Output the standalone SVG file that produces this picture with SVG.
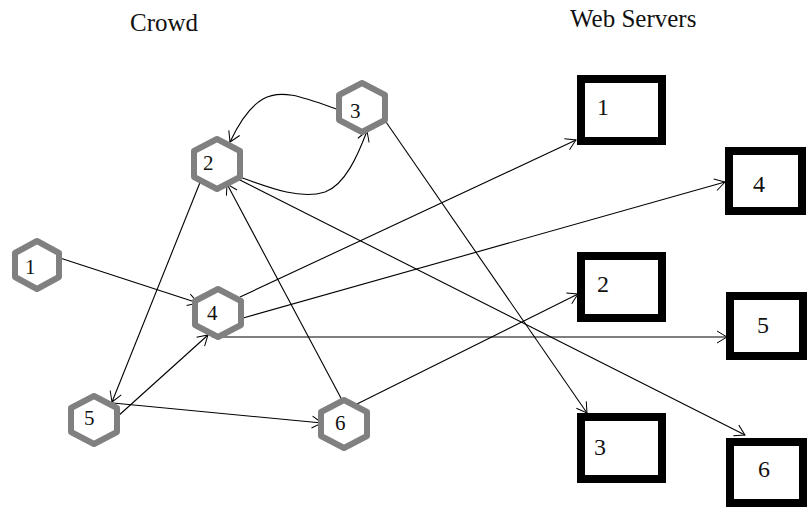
<svg xmlns="http://www.w3.org/2000/svg" width="807" height="511" viewBox="0 0 807 511">
<defs>
<marker id="arr" markerWidth="14" markerHeight="14" refX="12" refY="7" orient="auto" markerUnits="userSpaceOnUse">
<path d="M2,1 L12,7 L2,13" fill="none" stroke="#000" stroke-width="1"/>
</marker>
<style>
.t{font-family:"Liberation Serif","Times New Roman",serif;fill:#111}
.title{font-size:25px}
.hl{font-size:21px}
.bl{font-size:24px}
.hex{fill:#fff;stroke:#808080;stroke-width:6;stroke-linejoin:round}
.box{fill:#fff;stroke:#000;stroke-width:8}
.c{fill:none;stroke:#000;stroke-width:1.1;marker-end:url(#arr)}
</style>
</defs>
<rect width="807" height="511" fill="#fff"/>
<text class="t title" x="130" y="31">Crowd</text>
<text class="t title" x="570" y="27">Web Servers</text>

<g id="connectors">
<path class="c" d="M60,258 L198,303"/>
<path class="c" d="M342,111 C305,98 282,88 263,99 C249,107 238,125 230,142"/>
<path class="c" d="M237,176 C270,188 300,200 325,192 C345,185 358,155 367,131"/>
<path class="c" d="M386,122 L587,413"/>
<path class="c" d="M201,180 L112,402"/>
<path class="c" d="M342,400 L227,184"/>
<path class="c" d="M238,179 L745,435"/>
<path class="c" d="M240,297 L576,140"/>
<path class="c" d="M243,318 L725,182"/>
<path class="c" d="M212,337 L727,337"/>
<path class="c" d="M117,417 L208,335"/>
<path class="c" d="M113,403 L322,423"/>
<path class="c" d="M357,404 L578,294"/>
</g>

<g id="c1"><polygon class="hex" points="37,241 59,253 59,277 37,289 15,277 15,253"/><text class="t hl" x="25" y="274">1</text></g>
<g id="c2"><polygon class="hex" points="217,139 240,151 240,177 217,189 194,177 194,151"/><text class="t hl" x="203" y="170">2</text></g>
<g id="c3"><polygon class="hex" points="362,83 385,95 385,120 362,132 339,120 339,95"/><text class="t hl" x="350" y="118">3</text></g>
<g id="c4"><polygon class="hex" points="218,289 241,301 241,325 218,337 195,325 195,301"/><text class="t hl" x="207" y="320">4</text></g>
<g id="c5"><polygon class="hex" points="94,396 117,408 117,432 94,444 71,432 71,408"/><text class="t hl" x="84" y="425">5</text></g>
<g id="c6"><polygon class="hex" points="344,400 367,412 367,436 344,448 321,436 321,412"/><text class="t hl" x="335" y="430">6</text></g>

<g id="s1"><rect class="box" x="581" y="79" width="81" height="62"/><text class="t bl" x="597" y="115">1</text></g>
<g id="s4"><rect class="box" x="729" y="151" width="73" height="60"/><text class="t bl" x="753" y="192">4</text></g>
<g id="s2"><rect class="box" x="581" y="256" width="81" height="62"/><text class="t bl" x="597" y="292">2</text></g>
<g id="s5"><rect class="box" x="730" y="296" width="73" height="60"/><text class="t bl" x="757" y="333">5</text></g>
<g id="s3"><rect class="box" x="581" y="417" width="81" height="62"/><text class="t bl" x="594" y="455">3</text></g>
<g id="s6"><rect class="box" x="730" y="442" width="73" height="61"/><text class="t bl" x="758" y="477">6</text></g>
</svg>
